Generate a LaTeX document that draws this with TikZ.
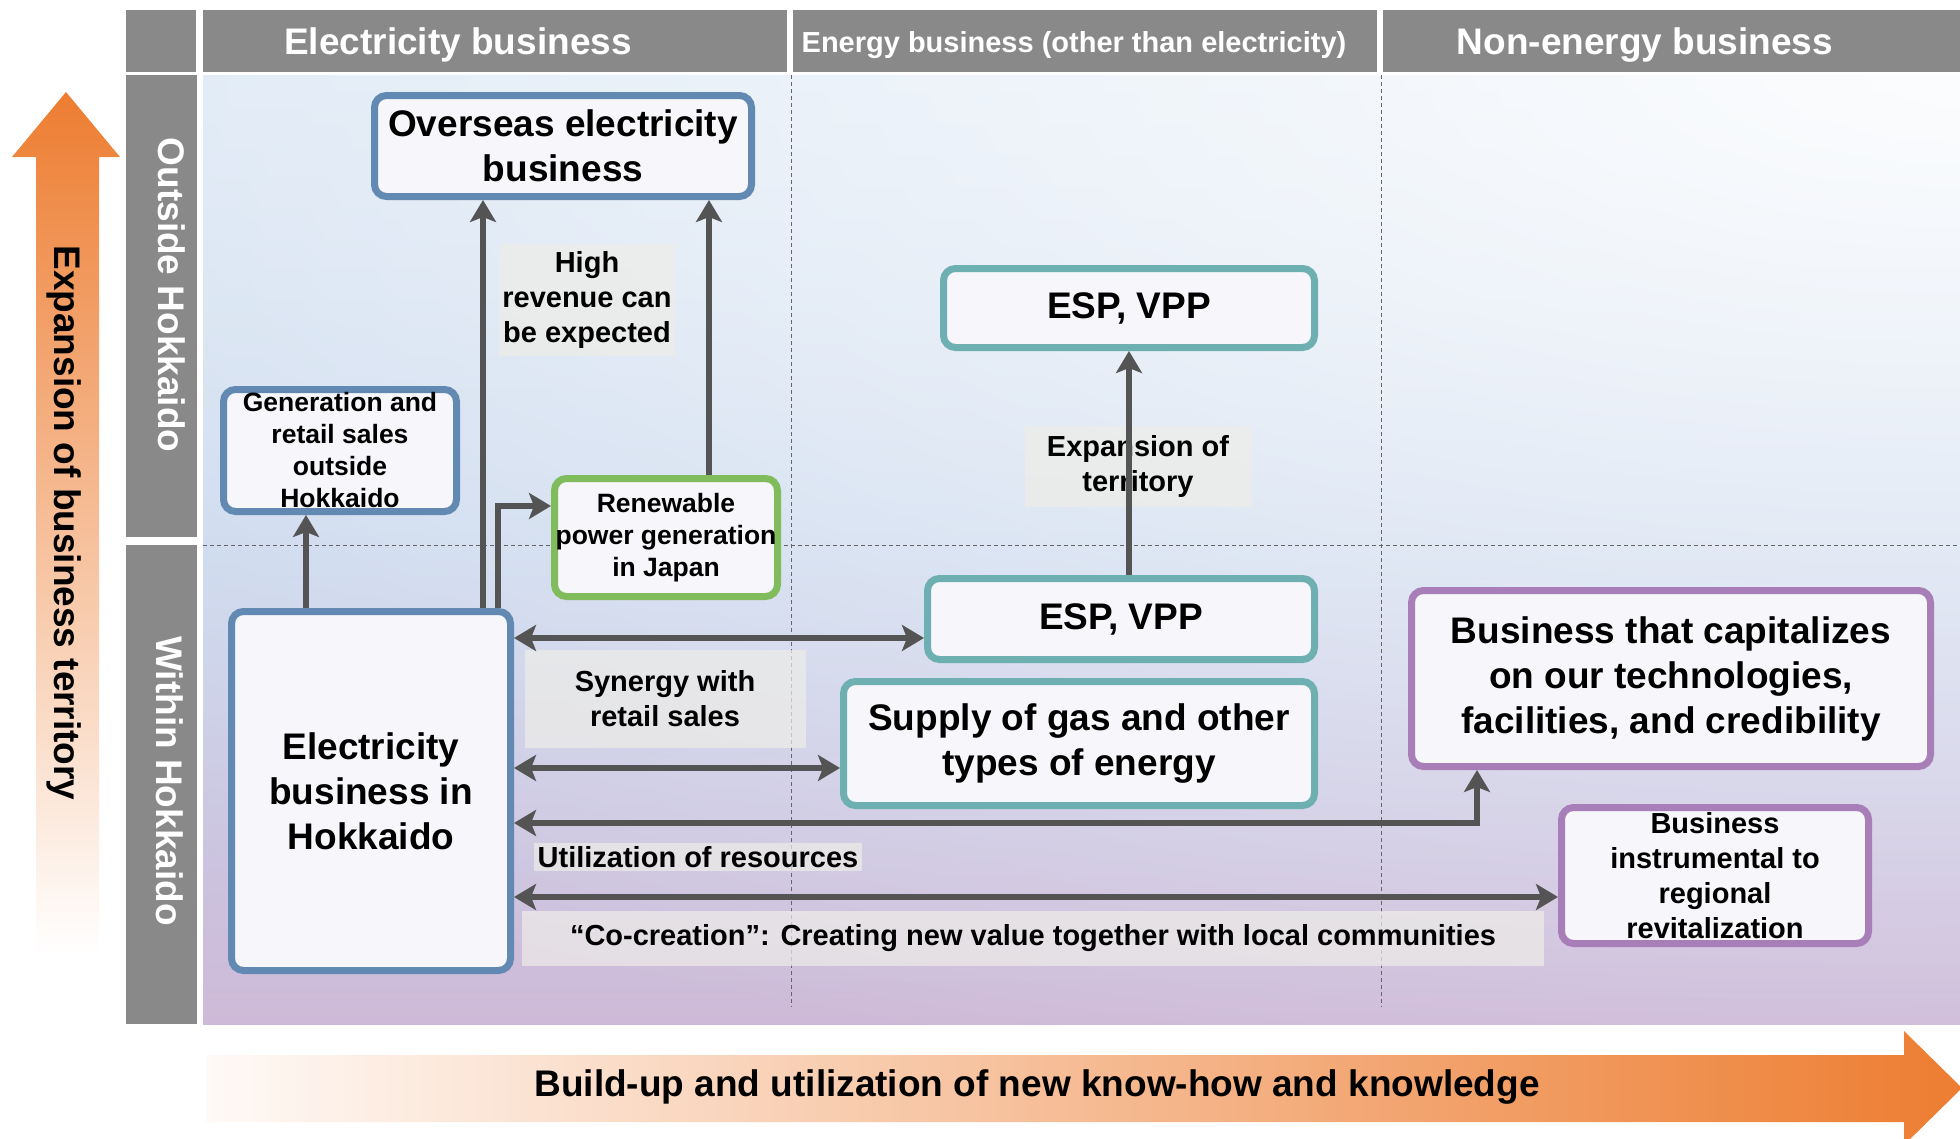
\documentclass[tikz,border=0pt]{standalone}
\usepackage{fontspec}
\setmainfont{Liberation Sans}
\usetikzlibrary{arrows.meta}
\usetikzlibrary{fadings}

\definecolor{hdgray}{RGB}{137,137,137}
\definecolor{arrgray}{RGB}{84,84,84}
\definecolor{boxblue}{RGB}{98,137,178}
\definecolor{boxgreen}{RGB}{128,188,92}
\definecolor{boxteal}{RGB}{110,176,178}
\definecolor{boxpurple}{RGB}{168,126,184}
\definecolor{boxfill}{RGB}{247,246,250}
\definecolor{lblfill}{RGB}{238,237,232}
\definecolor{arrorange}{RGB}{237,125,49}
\definecolor{bgtop}{RGB}{214,228,243}
\definecolor{bgmid}{RGB}{198,213,236}
\definecolor{bgbot}{RGB}{206,186,216}

\tikzfading[name=wash, inner color=transparent!8, outer color=transparent!100]

\begin{document}
\begin{tikzpicture}[x=1pt,y=-1pt,
                    head/.style={text=white,
                                 font=\bfseries\fontsize{37}{44}\selectfont},
                    big/.style={font=\bfseries\fontsize{37}{45}\selectfont},
                    small/.style={font=\bfseries\fontsize{26.5}{32}\selectfont},
                    mid/.style={font=\bfseries\fontsize{29}{35}\selectfont},
                    box/.style={big, draw, line width=7pt, rounded corners=12pt,
                                fill=boxfill, align=center, inner sep=0pt},
                    lbl/.style={mid, fill=lblfill, fill opacity=.7,
                                text opacity=1, align=center},
                    gridline/.style={draw=black!60, line width=1pt,
                                     dash pattern=on 4pt off 3pt},
                    arr/.style={draw=arrgray, line width=6.5pt, ->,
                                >={Stealth[length=22pt,width=26pt,inset=5pt]}},
                    arr2/.style={arr, <->}]
\useasboundingbox (0,0) rectangle (1960,1138);
% the grid with its colour wash
\shade[top color=bgtop, bottom color=bgbot, middle color=bgmid]
      (203,75) rectangle (1960,1024);
\begin{scope}
  \clip (203,75) rectangle (1960,1024);
  \fill[white, path fading=wash] (-740,-965) rectangle (4660,1115);
\end{scope}
\draw[gridline] (203,545) -- (1960,545);
\foreach \x in {791,1381}
      \draw[gridline] (\x,75) -- (\x,1007);
%
% column and row heads
\fill[hdgray] (126,10) rectangle (196,72);
\foreach \n/\xa/\xb/\xt/\sz/\txt in {1/203/787/458/37/Electricity business,
                                     2/793/1377/1074/29/Energy business (other than electricity),
                                     3/1383/1960/1645/37/Non-energy business}
{
      \fill[hdgray] (\xa,10) rectangle (\xb,72);
      \node[head, font=\bfseries\fontsize{\sz}{44}\selectfont] (head \n) at (\xt,45) {\txt};
}
\fill[hdgray] (126,75) rectangle (197,537);
\fill[hdgray] (126,545) rectangle (197,1024);
\node[head, rotate=-90, anchor=base] (outside) at (158,295) {Outside Hokkaido};
\node[head, rotate=-90, anchor=base] (within) at (156,781) {Within Hokkaido};
%
% the two broad arrows
\shade[top color=arrorange, bottom color=white]
      (66,92) -- (120,157) -- (99,157) -- (99,955) -- (36,955) -- (36,157)
      -- (12,157) -- cycle;
\node[big, rotate=-90, anchor=base] (territory axis) at (54,523)
      {Expansion of business territory};
\shade[left color=arrorange!4, right color=arrorange]
      (206,1055) -- (1904,1055) -- (1904,1031) -- (1962,1088) -- (1904,1145)
      -- (1904,1122) -- (206,1122) -- cycle;
\node[big] (knowhow axis) at (1037,1087)
      {Build-up and utilization of new know-how and knowledge};
%
% labels
\node[lbl, minimum width=175pt, minimum height=112pt] (revenue) at (587,300)
      {High\\revenue can\\be expected};
\node[lbl, minimum width=227pt, minimum height=81pt] (expansion) at (1138,466)
      {Expansion of\\territory};
\node[lbl, minimum width=281pt, minimum height=98pt] (synergy) at (665,699)
      {Synergy with\\retail sales};
\node[lbl, inner xsep=4pt] (resources) at (698,857) {Utilization of resources};
\node[lbl, minimum width=1022pt, minimum height=55pt] (cocreation) at (1033,938)
      {“Co-creation”: Creating new value together with local communities};
%
% the businesses
\node[box, draw=boxblue, minimum width=377pt, minimum height=101pt]
      (overseas) at (563,146) {Overseas electricity\\business};
\node[box, small, draw=boxblue, minimum width=233pt, minimum height=122pt]
      (outgen) at (340,450.5) {Generation and\\retail sales\\outside\\Hokkaido};
\node[box, small, draw=boxgreen, minimum width=223pt, minimum height=118pt]
      (renew) at (666,537.5) {Renewable\\power generation\\in Japan};
\node[box, draw=boxteal, minimum width=371pt, minimum height=79pt]
      (espout) at (1129,308) {ESP, VPP};
\node[box, draw=boxteal, minimum width=387pt, minimum height=81pt]
      (espin) at (1121,619) {ESP, VPP};
\node[box, draw=boxteal, minimum width=471pt, minimum height=124pt]
      (gas) at (1079,743.5) {Supply of gas and other\\types of energy};
\node[box, draw=boxblue, minimum width=279pt, minimum height=359pt]
      (hokkaido) at (371,791) {Electricity\\business in\\Hokkaido};
\node[box, draw=boxpurple, minimum width=519pt, minimum height=176pt]
      (capitalize) at (1671,678.5)
      {Business that capitalizes\\on our technologies,\\facilities, and credibility};
\node[box, mid, draw=boxpurple, minimum width=307pt, minimum height=136pt]
      (regional) at (1715,875.5) {Business\\instrumental to\\regional\\revitalization};
%
% connectors
\coordinate (a1) at ([xshift=-34pt]outgen.south);
\coordinate (b1) at ([xshift=-80pt]overseas.south);
\coordinate (c0) at ([xshift=127pt]hokkaido.north);
\coordinate (c1) at ([yshift=31.5pt]renew.west);
\coordinate (d0) at ([xshift=43pt]renew.north);
\coordinate (f1) at ([yshift=-19pt]espin.west);
\coordinate (g1) at ([yshift=-24.5pt]gas.west);
\coordinate (h0) at ([yshift=-32pt]hokkaido.east);
\coordinate (h1) at ([xshift=-194pt]capitalize.south);
\coordinate (i1) at ([yshift=-21.5pt]regional.west);
\draw[arr] (a1 |- hokkaido.north) -- (a1);
\draw[arr] (b1 |- hokkaido.north) -- (b1);
\draw[arr] (c0) |- (c1);
\draw[arr] (d0) -- (d0 |- overseas.south);
\draw[arr] (espin.north -| espout.south) -- (espout.south);
\draw[arr2] (f1 -| hokkaido.east) -- (f1);
\draw[arr2] (g1 -| hokkaido.east) -- (g1);
\draw[arr2] (h0) -| (h1);
\draw[arr2] (i1 -| hokkaido.east) -- (i1);
\end{tikzpicture}
\end{document}
